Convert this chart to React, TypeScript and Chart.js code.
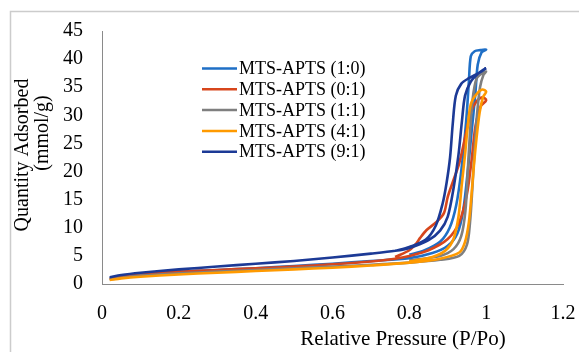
import React, { useEffect, useRef } from "react";
import { Chart, registerables } from "chart.js";

Chart.register(...registerables);

// ---- Data ----
const seriesLabels = ["MTS-APTS (1:0)", "MTS-APTS (0:1)", "MTS-APTS (1:1)", "MTS-APTS (4:1)", "MTS-APTS (9:1)"];
const seriesColors = ["#1f6fc6", "#d7461c", "#7f7f7f", "#ff9a00", "#1c3a96"];

const xTickLabels = ["0", "0.2", "0.4", "0.6", "0.8", "1", "1.2"];
const yTickLabels = ["0", "5", "10", "15", "20", "25", "30", "35", "40", "45"];

// MTS-APTS (1:0): adsorption then desorption
const s10P = [0.02, 0.05, 0.1, 0.2, 0.3, 0.4, 0.5, 0.6, 0.7, 0.8, 0.86, 0.9, 0.925, 0.94, 0.952, 0.962, 0.972, 0.978, 0.988, 1.0,
  0.985, 0.97, 0.96, 0.955, 0.948, 0.935, 0.922, 0.905, 0.88, 0.84, 0.8];
const s10Q = [1.0, 1.4, 1.7, 2.2, 2.5, 2.8, 3.2, 3.6, 4.1, 4.6, 5.5, 6.8, 9, 13, 20, 27, 34, 39, 41.2, 41.7,
  41.6, 41.4, 40.5, 36, 29, 20, 14, 10, 7.5, 6.0, 5.2];

// MTS-APTS (0:1)
const s01P = [0.02, 0.05, 0.1, 0.2, 0.3, 0.4, 0.5, 0.6, 0.7, 0.763, 0.8, 0.85, 0.9, 0.93, 0.95, 0.962, 0.972, 0.985, 1.0,
  0.99, 0.975, 0.96, 0.945, 0.93, 0.915, 0.9, 0.89, 0.87, 0.845, 0.828, 0.818, 0.8, 0.763];
const s01Q = [0.9, 1.3, 1.7, 2.2, 2.5, 2.8, 3.1, 3.5, 4.0, 4.5, 5.0, 6.0, 8.0, 11, 16, 22, 28, 31.5, 32.7,
  33.2, 32.5, 30.5, 26, 21.5, 18.5, 15.5, 12.6, 11, 9.6, 8.2, 7.2, 6.0, 4.8];

// MTS-APTS (1:1)
const s11P = [0.02, 0.05, 0.1, 0.2, 0.3, 0.4, 0.5, 0.6, 0.7, 0.8, 0.88, 0.93, 0.95, 0.958, 0.964, 0.97, 0.976, 0.984, 0.993, 1.0,
  0.99, 0.975, 0.965, 0.958, 0.952, 0.946, 0.935, 0.915, 0.88, 0.8];
const s11Q = [0.8, 1.1, 1.5, 1.9, 2.2, 2.5, 2.8, 3.1, 3.4, 3.8, 4.3, 5.0, 7, 11, 17, 24, 30, 35, 37.2, 37.8,
  37.5, 36.5, 33, 27, 20, 13, 8.5, 6.2, 5.0, 4.2];

// MTS-APTS (4:1)
const s41P = [0.02, 0.05, 0.1, 0.2, 0.3, 0.4, 0.5, 0.6, 0.7, 0.8, 0.88, 0.93, 0.945, 0.955, 0.962, 0.968, 0.975, 0.983, 0.992, 1.0,
  0.99, 0.975, 0.96, 0.952, 0.945, 0.937, 0.928, 0.915, 0.895, 0.86, 0.8];
const s41Q = [0.7, 1.0, 1.3, 1.7, 2.0, 2.3, 2.6, 2.9, 3.3, 3.8, 4.5, 5.6, 7.5, 11, 16, 21, 26, 30.5, 33.3, 34.2,
  34.6, 33.8, 32, 28, 23, 18, 12, 8, 6, 4.8, 4.0];

// MTS-APTS (9:1)
const s91P = [0.02, 0.05, 0.1, 0.2, 0.3, 0.4, 0.5, 0.6, 0.7, 0.763, 0.8, 0.85, 0.88, 0.9, 0.915, 0.928, 0.937, 0.945, 0.96, 0.98, 1.0,
  0.98, 0.955, 0.935, 0.921, 0.913, 0.906, 0.897, 0.887, 0.869, 0.843, 0.8, 0.763];
const s91Q = [1.2, 1.6, 2.0, 2.6, 3.1, 3.6, 4.1, 4.7, 5.4, 5.9, 6.4, 7.8, 9.5, 12, 17, 23, 29, 33.5, 36, 37.5, 38.4,
  37.5, 36.6, 35.6, 33.5, 28.5, 22.5, 18, 14.4, 10.4, 7.9, 6.6, 5.9];

const seriesP = [s10P, s01P, s11P, s41P, s91P];
const seriesQ = [s10Q, s01Q, s11Q, s41Q, s91Q];

const yTitleLines = ["Quantity Adsorbed", "(mmol/g)"];
const xTitle = "Relative Pressure (P/Po)";

const FONT = "'Liberation Serif', 'Times New Roman', serif";

const decorPlugin = {
  id: "decor",
  beforeDraw(chart: any) {
    const ctx = chart.ctx;
    ctx.save();
    ctx.strokeStyle = "#cccccc";
    ctx.lineWidth = 1.5;
    ctx.strokeRect(10.5, 11.5, 800, 600);
    ctx.restore();
  },
  afterDraw(chart: any) {
    const ctx = chart.ctx;
    ctx.save();
    ctx.fillStyle = "#000";
    // Y title (two rotated lines)
    ctx.font = `20px ${FONT}`;
    ctx.textAlign = "center";
    ctx.textBaseline = "middle";
    ctx.save();
    ctx.translate(23, 155);
    ctx.rotate(-Math.PI / 2);
    ctx.fillText(yTitleLines[0], 0, 0);
    ctx.restore();
    ctx.save();
    ctx.translate(43, 133);
    ctx.rotate(-Math.PI / 2);
    ctx.fillText(yTitleLines[1], 0, 0);
    ctx.restore();
    // X title
    ctx.font = `21px ${FONT}`;
    ctx.fillText(xTitle, 403, 339);
    // Legend
    ctx.font = `18px ${FONT}`;
    ctx.textAlign = "left";
    chart.data.datasets.forEach((ds: any, i: number) => {
      const y = 68.5 + i * 20.8;
      ctx.strokeStyle = ds.borderColor;
      ctx.lineWidth = 2.5;
      ctx.beginPath();
      ctx.moveTo(202, y);
      ctx.lineTo(237, y);
      ctx.stroke();
      ctx.fillStyle = "#000";
      ctx.fillText(ds.label, 239, y + 1);
    });
    ctx.restore();
  },
};

export default function App() {
  const ref = useRef<HTMLCanvasElement | null>(null);
  useEffect(() => {
    if (!ref.current) return;
    const datasets = seriesLabels.map((label, i) => ({
      label,
      data: seriesP[i].map((p, k) => ({ x: p, y: seriesQ[i][k] })),
      borderColor: seriesColors[i],
      backgroundColor: seriesColors[i],
      borderWidth: 2.6,
      pointRadius: 0,
      showLine: true,
      tension: 0.3,
      fill: false,
      order: seriesLabels.length - i,
    }));
    const chart = new Chart(ref.current, {
      type: "scatter",
      data: { datasets },
      plugins: [decorPlugin],
      options: {
        animation: false,
        responsive: false,
        devicePixelRatio: 1,
        layout: { padding: { left: 0, top: 31, right: 16, bottom: 0 } },
        plugins: { legend: { display: false }, tooltip: { enabled: false } },
        scales: {
          x: {
            type: "linear",
            min: 0,
            max: 1.2,
            afterFit: (s: any) => { s.height = 68; s.paddingLeft = 0; s.paddingRight = 0; },
            afterBuildTicks: (s: any) => {
              s.ticks = xTickLabels.map((t) => ({ value: parseFloat(t) }));
            },
            ticks: {
              callback: (v: any) => xTickLabels.find((t) => Math.abs(parseFloat(t) - v) < 1e-6) ?? "",
              color: "#000",
              font: { family: FONT, size: 20 },
              padding: 18,
              maxRotation: 0,
            },
            grid: { display: true, drawOnChartArea: false, drawTicks: false },
            border: { display: true, color: "#8a8a8a", width: 1 },
          },
          y: {
            type: "linear",
            min: 0,
            max: 45,
            afterFit: (s: any) => { s.width = 102; s.paddingTop = 0; s.paddingBottom = 0; },
            afterBuildTicks: (s: any) => {
              s.ticks = yTickLabels.map((t) => ({ value: parseFloat(t) }));
            },
            ticks: {
              callback: (v: any) => yTickLabels.find((t) => Math.abs(parseFloat(t) - v) < 1e-6) ?? "",
              color: "#000",
              font: { family: FONT, size: 20 },
              padding: 19,
            },
            grid: { display: true, drawOnChartArea: false, drawTicks: false },
            border: { display: true, color: "#8a8a8a", width: 1 },
          },
        },
      } as any,
    });
    return () => chart.destroy();
  }, []);
  return (
    <div style={{ position: "absolute", left: 0, top: 0, width: 579, height: 352, background: "#fff" }}>
      <canvas ref={ref} width={579} height={352} style={{ width: 579, height: 352, display: "block" }} />
    </div>
  );
}
